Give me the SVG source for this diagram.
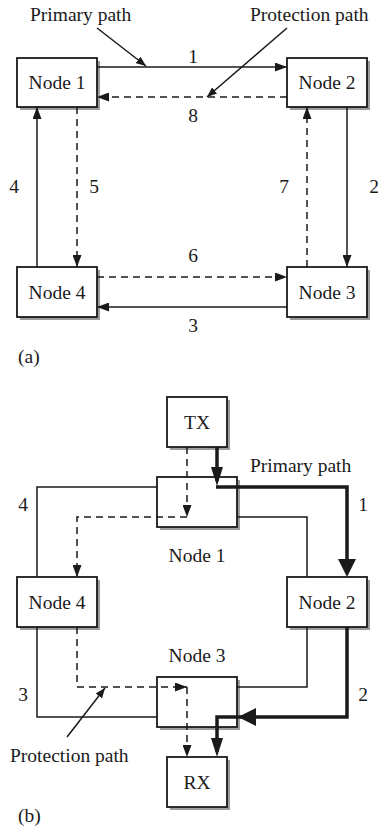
<svg xmlns="http://www.w3.org/2000/svg" width="378" height="827" viewBox="0 0 378 827" font-family="'Liberation Serif', 'DejaVu Serif', serif">
<style>
text{font-family:"Liberation Serif","DejaVu Serif",serif;font-size:19.5px;fill:#1a1a1a}
.c{text-anchor:middle}
.sh{fill:#9c9c9c;stroke:none}
.bx{fill:#fff;stroke:#1a1a1a;stroke-width:1.8}
.ln{fill:none;stroke:#1a1a1a;stroke-width:1.5}
.ds{fill:none;stroke:#1a1a1a;stroke-width:1.5;stroke-dasharray:7,5}
.tk{fill:none;stroke:#1a1a1a;stroke-width:3.5}
</style>
<defs>
<marker id="a" markerUnits="userSpaceOnUse" markerWidth="12" markerHeight="9" refX="12" refY="4.5" orient="auto"><path d="M0,0 L12,4.5 L0,9 z" fill="#1a1a1a"/></marker>
<marker id="p" markerUnits="userSpaceOnUse" markerWidth="10" markerHeight="8" refX="10" refY="4" orient="auto"><path d="M0,0 L10,4 L0,8 z" fill="#1a1a1a"/></marker>
<marker id="big" markerUnits="userSpaceOnUse" markerWidth="18" markerHeight="18" refX="12" refY="9" orient="auto"><path d="M0,0 L18,9 L0,18 z" fill="#1a1a1a"/></marker>
<marker id="tall" markerUnits="userSpaceOnUse" markerWidth="19" markerHeight="12" refX="14" refY="6" orient="auto"><path d="M0,0 L19,6 L0,12 z" fill="#1a1a1a"/></marker>
</defs>

<g id="node1a"><rect class="sh" x="20" y="61" width="80" height="49"/><rect class="bx" x="17" y="58" width="80" height="49"/><text class="c" x="57" y="89">Node 1</text></g>
<g id="node2a"><rect class="sh" x="290" y="61" width="80" height="49"/><rect class="bx" x="287" y="58" width="80" height="49"/><text class="c" x="327" y="89">Node 2</text></g>
<g id="node4a"><rect class="sh" x="20" y="270" width="80" height="50"/><rect class="bx" x="17" y="267" width="80" height="50"/><text class="c" x="57" y="298.5">Node 4</text></g>
<g id="node3a"><rect class="sh" x="290" y="270" width="80" height="50"/><rect class="bx" x="287" y="267" width="80" height="50"/><text class="c" x="327" y="298.5">Node 3</text></g>

<g id="tx"><rect class="sh" x="170" y="400" width="60" height="50"/><rect class="bx" x="167" y="397" width="60" height="50"/><text class="c" x="197" y="428.5">TX</text></g>
<g id="node1b"><rect class="sh" x="160" y="480" width="80" height="50"/><rect class="bx" x="157" y="477" width="80" height="50"/><text class="c" x="197" y="562">Node 1</text></g>
<g id="node4b"><rect class="sh" x="20" y="580" width="80" height="50"/><rect class="bx" x="17" y="577" width="80" height="50"/><text class="c" x="57" y="608.5">Node 4</text></g>
<g id="node2b"><rect class="sh" x="290" y="580" width="80" height="50"/><rect class="bx" x="287" y="577" width="80" height="50"/><text class="c" x="327" y="608.5">Node 2</text></g>
<g id="node3b"><rect class="sh" x="160" y="680" width="80" height="50"/><rect class="bx" x="157" y="677" width="80" height="50"/><text class="c" x="197" y="662">Node 3</text></g>
<g id="rx"><rect class="sh" x="170" y="760" width="60" height="50"/><rect class="bx" x="167" y="757" width="60" height="50"/><text class="c" x="197" y="788.5">RX</text></g>

<g id="connectors">
<path class="ln" d="M97,67 L287,67" marker-end="url(#a)"/>
<path class="ds" d="M287,97 L97,97" marker-end="url(#a)"/>
<path class="ln" d="M37,267 L37,107" marker-end="url(#a)"/>
<path class="ds" d="M77,107 L77,267" marker-end="url(#a)"/>
<path class="ds" d="M307,267 L307,107" marker-end="url(#a)"/>
<path class="ln" d="M347,107 L347,267" marker-end="url(#a)"/>
<path class="ds" d="M97,277 L287,277" marker-end="url(#a)"/>
<path class="ln" d="M287,307 L97,307" marker-end="url(#a)"/>
<path class="ln" d="M97,28 L146,66" marker-end="url(#p)"/>
<path class="ln" d="M287,28 L207,97" marker-end="url(#p)"/>
<path class="ln" d="M157,487 L37,487 L37,577"/>
<path class="ln" d="M237,517 L307,517 L307,577"/>
<path class="ln" d="M37,627 L37,717 L157,717"/>
<path class="ln" d="M307,627 L307,687 L237,687"/>
<path class="ds" d="M187,447 L187,517" marker-end="url(#a)"/>
<path class="ds" d="M187,517 L77,517 L77,577" marker-end="url(#a)"/>
<path class="ds" d="M77,627 L77,687 L187,687" marker-end="url(#a)"/>
<path class="ds" d="M187,687 L187,757" marker-end="url(#a)"/>
<path class="tk" d="M217,447 L217,481" marker-end="url(#tall)"/>
<path class="tk" d="M216,487 L347,487 L347,571" marker-end="url(#big)"/>
<path class="tk" d="M347,627 L347,717 L244,717" marker-end="url(#big)"/>
<path class="tk" d="M245,717 L217,717 L217,752" marker-end="url(#tall)"/>
<path class="ln" d="M67,737 L105,688" marker-end="url(#p)"/>
</g>

<g id="labels-a">
<text x="30" y="21">Primary path</text>
<text x="250" y="21">Protection path</text>
<text class="c" x="193" y="63">1</text>
<text class="c" x="193" y="122">8</text>
<text class="c" x="14" y="193">4</text>
<text class="c" x="94" y="193">5</text>
<text class="c" x="284" y="193">7</text>
<text class="c" x="374" y="193">2</text>
<text class="c" x="193" y="262">6</text>
<text class="c" x="193" y="332">3</text>
<text x="18" y="363">(a)</text>
</g>

<g id="labels-b">
<text x="250" y="472">Primary path</text>
<text class="c" x="23" y="511">4</text>
<text class="c" x="363" y="511">1</text>
<text class="c" x="23" y="701">3</text>
<text class="c" x="363" y="701">2</text>
<text x="10" y="762">Protection path</text>
<text x="18" y="822">(b)</text>
</g>
</svg>
